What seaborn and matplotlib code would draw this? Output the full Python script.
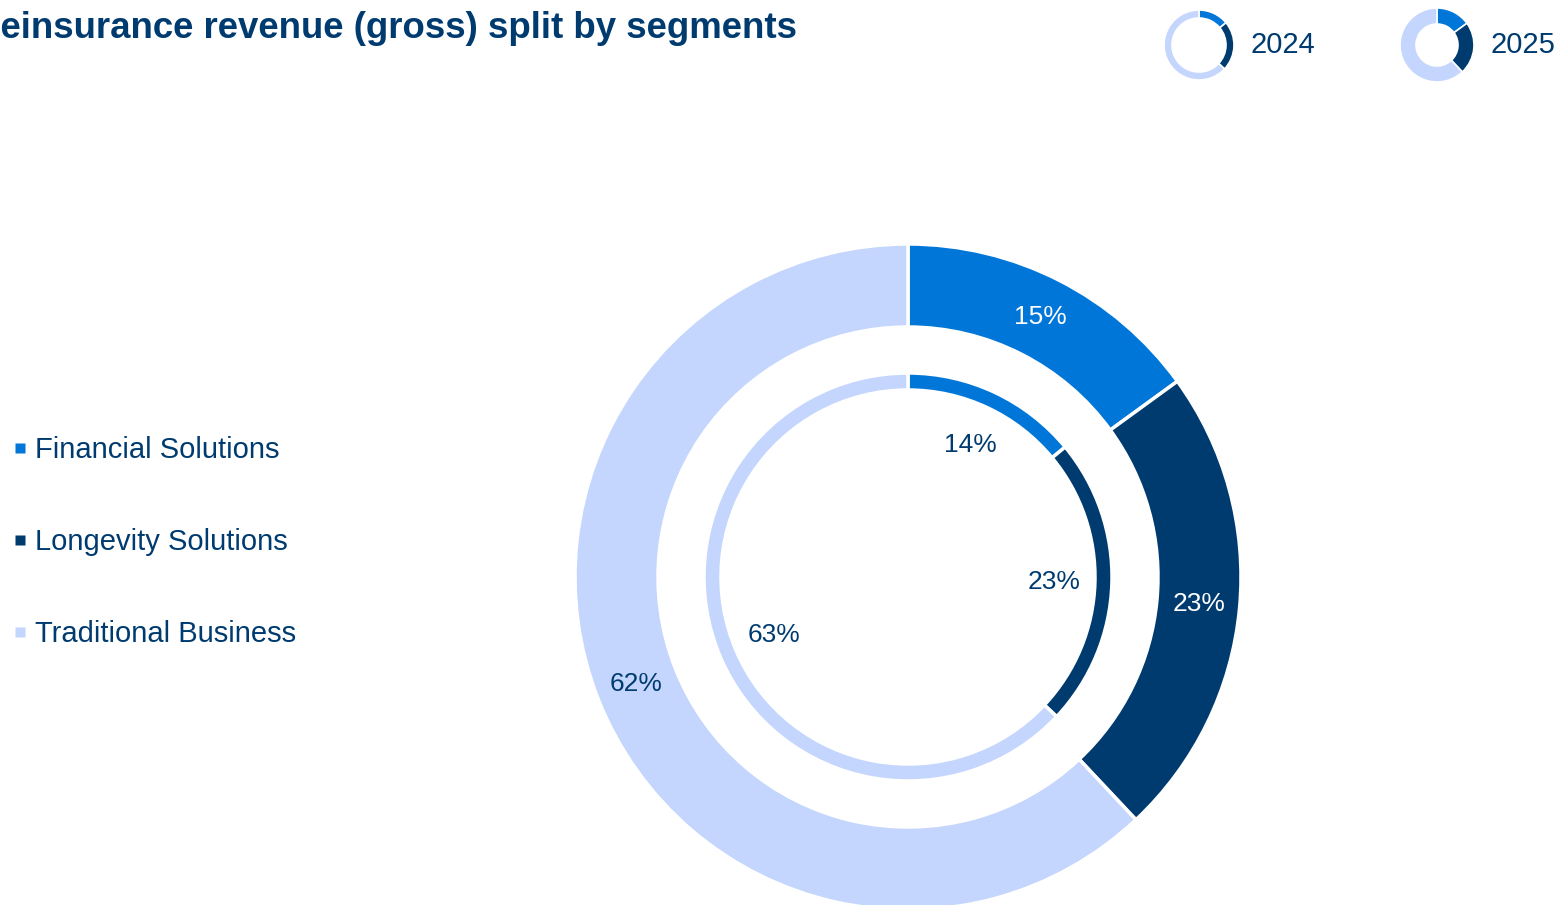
import numpy as np
import matplotlib
matplotlib.use("Agg")
import matplotlib.pyplot as plt
from matplotlib import font_manager as fm
from matplotlib.lines import Line2D
import seaborn as sns

# Segment split of reinsurance revenue (gross), in percent
segments = ["Financial Solutions", "Longevity Solutions", "Traditional Business"]
share_2024 = [14, 23, 63]
share_2025 = [15, 23, 62]
years = ["2024", "2025"]
title_text = "Reinsurance revenue (gross) split by segments"

seg_colors = ["#0077D8", "#003B70", "#C4D6FD"]
navy = "#003B70"

sns.set_theme(style="white")
installed = {f.name for f in fm.fontManager.ttflist}
body_font = "Liberation Sans" if "Liberation Sans" in installed else "DejaVu Sans"
title_font = "Liberation Sans Narrow" if "Liberation Sans Narrow" in installed else body_font
plt.rcParams["font.family"] = [body_font, "DejaVu Sans"]

W, H = 1565, 905
fig = plt.figure(figsize=(W / 100, H / 100), dpi=100)
ax = fig.add_axes([0, 0, 1, 1])
palette = sns.color_palette(seg_colors)

cx, cy = 908, H - 577
wedge_edge = dict(edgecolor="white", linewidth=2.5)

# Outer ring: 2025
ax.pie(share_2025, radius=333, center=(cx, cy), startangle=90,
       counterclock=False, colors=palette,
       wedgeprops=dict(width=83, **wedge_edge))
# Inner thin ring: 2024
ax.pie(share_2024, radius=204, center=(cx, cy), startangle=90,
       counterclock=False, colors=palette,
       wedgeprops=dict(width=17, **wedge_edge))


def ring_labels(values, r_text, colors):
    total = float(sum(values))
    start = 0.0
    for v, c in zip(values, colors):
        mid = (start + v / 2) / total * 2 * np.pi
        ax.text(cx + r_text * np.sin(mid), cy + r_text * np.cos(mid), f"{v}%",
                ha="center", va="center", fontsize=19, color=c)
        start += v


ring_labels(share_2025, 292, ["white", "white", navy])
ring_labels(share_2024, 146, [navy, navy, navy])

# Year icons in the top-right corner
icon_specs = [(1199, 35, 8), (1437, 37, 16)]
for yr, vals, (ix, ir, iw) in zip(years, [share_2024, share_2025], icon_specs):
    ax.pie(vals, radius=ir, center=(ix, H - 45), startangle=90, counterclock=False,
           colors=palette, wedgeprops=dict(width=iw, edgecolor="white", linewidth=1.2))
    ax.text(ix + ir + 16, H - 45, yr, ha="left", va="center", fontsize=21, color=navy)

ax.set_xlim(0, W)
ax.set_ylim(0, H)
ax.set_aspect("equal")
ax.axis("off")

# Segment legend on the left
handles = [Line2D([], [], marker="s", linestyle="none", markersize=6.5,
                  markerfacecolor=c, markeredgecolor="none") for c in palette]
leg = ax.legend(handles, segments, loc="center left", bbox_to_anchor=(11 / W, (H - 542) / H),
                frameon=False, fontsize=21, handlelength=0.6, handletextpad=0.22,
                labelspacing=2.2, borderpad=0, borderaxespad=0)
for t in leg.get_texts():
    t.set_color(navy)

# Title, sized so the visible part spans the intended width
fig.canvas.draw()
renderer = fig.canvas.get_renderer()
probe = fig.text(0, 0, title_text[1:], fontsize=10, fontweight="bold", family=title_font)
w10 = probe.get_window_extent(renderer).width
probe.remove()
size = 10 * 800 / w10
probe = fig.text(0, 0, title_text[0], fontsize=size, fontweight="bold", family=title_font)
r_w = probe.get_window_extent(renderer).width
probe.remove()
fig.text(-r_w / W, 1 - 29 / H, title_text, fontsize=size, fontweight="bold",
         family=title_font, color=navy, ha="left", va="center")

fig.savefig("out.png", dpi=100)
